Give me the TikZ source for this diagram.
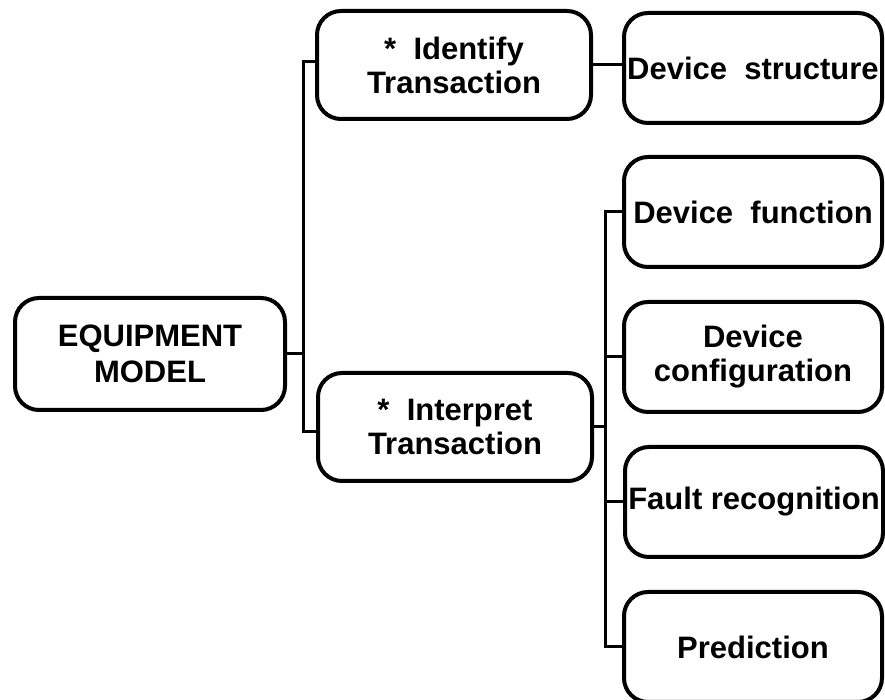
\documentclass[tikz,border=0pt]{standalone}
\usepackage{fontspec}
\setmainfont{Liberation Sans}
\begin{document}
\begin{tikzpicture}[x=0.5pt,y=-0.5pt,
  box/.style={draw=black, line width=2pt, rounded corners=12pt,
    inner sep=0pt, align=center,
    font=\bfseries\fontsize{15.5}{17}\selectfont},
  leftbox/.style={box, minimum width=135pt, minimum height=56pt,
    font=\bfseries\fontsize{15.5}{18}\selectfont},
  midbox/.style={box, minimum width=137pt, minimum height=54pt},
  leafbox/.style={box, minimum width=129pt, minimum height=55pt},
  link/.style={line width=1.5pt, line join=miter}]
\useasboundingbox (0,0) rectangle (885,700);

% root
\node[leftbox] (eq) at (150,354) {EQUIPMENT\\MODEL};

% transactions
\node[midbox] (ident) at (454,65) {*\ \ Identify\\Transaction};
\node[midbox] (interp) at (455,427) {*\ \ Interpret\\Transaction};

% knowledge areas
\node[leafbox] (struct) at (753,68) {Device\ \ structure};
\node[leafbox] (func) at (753,212) {Device\ \ function};
\node[leafbox] (config) at (753,357) {Device\\configuration};
\node[leafbox] (fault) at (754,502) {Fault recognition};
\node[leafbox] (pred) at (753,647) {Prediction};

% junction points on the two trunks
\coordinate (j1) at (303,354);
\coordinate (j2) at (605,427);

% root to transactions
\draw[link] (eq.east) -- (j1);
\draw[link] ([yshift=1.5pt]ident.west) -| (j1) |- ([yshift=-2.5pt]interp.west);

% identify to structure
\draw[link] (ident.east) -- (ident.east -| struct.west);

% interpret to its four areas
\draw[link] (interp.east) -- (j2);
\draw[link] (func.west) -| (j2) |- (pred.west);
\draw[link] (config.west) -- (config.west -| j2);
\draw[link] (fault.west) -- (fault.west -| j2);
\end{tikzpicture}
\end{document}
